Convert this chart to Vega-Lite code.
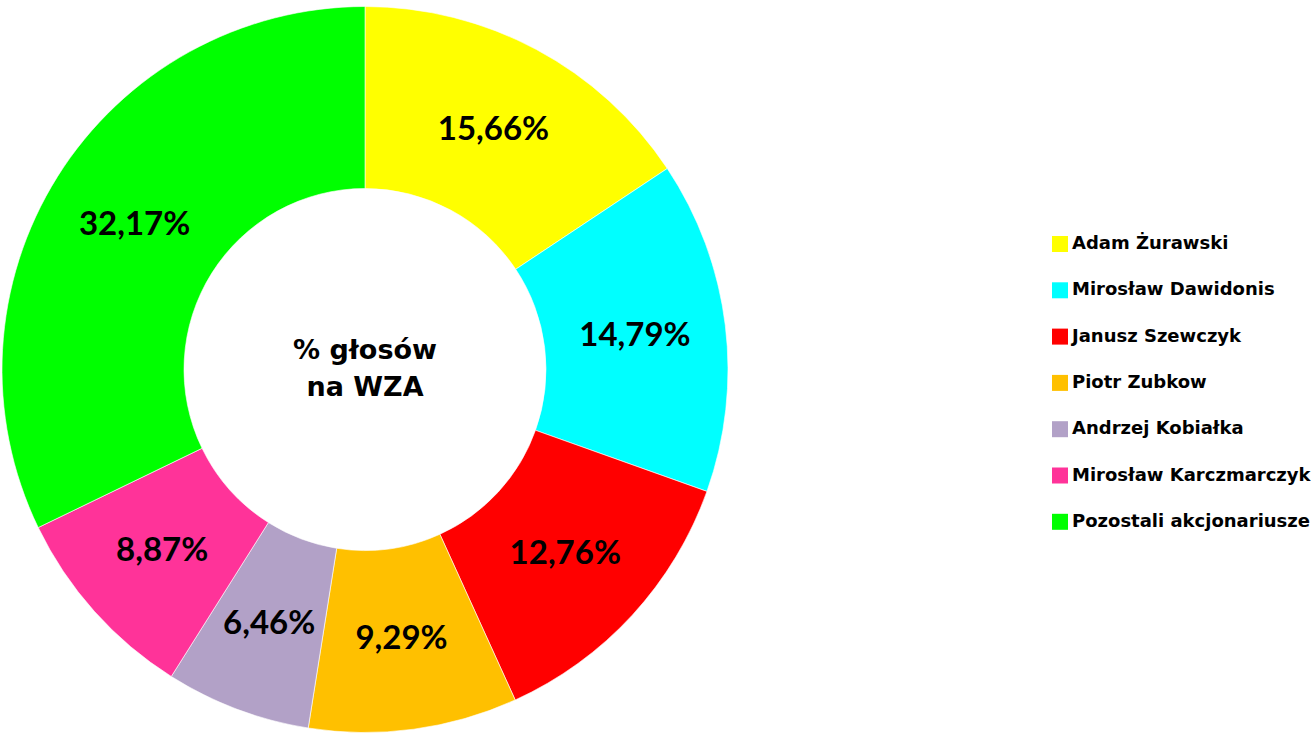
{
  "$schema": "https://vega.github.io/schema/vega-lite/v6.json",
  "width": 722,
  "height": 739,
  "padding": 0,
  "background": "white",
  "config": {"view": {"stroke": null}},
  "layer": [
    {
      "data": {"values": [
        {"name": "Adam Żurawski", "value": 15.66, "label": "15,66%", "order": 1},
        {"name": "Mirosław Dawidonis", "value": 14.79, "label": "14,79%", "order": 2},
        {"name": "Janusz Szewczyk", "value": 12.76, "label": "12,76%", "order": 3},
        {"name": "Piotr Zubkow", "value": 9.29, "label": "9,29%", "order": 4},
        {"name": "Andrzej Kobiałka", "value": 6.46, "label": "6,46%", "order": 5},
        {"name": "Mirosław Karczmarczyk", "value": 8.87, "label": "8,87%", "order": 6},
        {"name": "Pozostali akcjonariusze", "value": 32.17, "label": "32,17%", "order": 7}
      ]},
      "encoding": {
        "theta": {"field": "value", "type": "quantitative", "stack": true},
        "order": {"field": "order", "type": "quantitative"}
      },
      "layer": [
        {
          "mark": {"type": "arc", "radius": 363, "radius2": 181, "stroke": "white", "strokeWidth": 0.6},
          "encoding": {
            "color": {
              "field": "name", "type": "nominal",
              "scale": {
                "domain": ["Adam Żurawski", "Mirosław Dawidonis", "Janusz Szewczyk", "Piotr Zubkow", "Andrzej Kobiałka", "Mirosław Karczmarczyk", "Pozostali akcjonariusze"],
                "range": ["#FFFF00", "#00FFFF", "#FF0000", "#FFC000", "#B2A1C7", "#FF3399", "#00FF00"]
              },
              "legend": {
                "title": null,
                "orient": "none",
                "legendX": 1047,
                "legendY": 235,
                "symbolType": "square",
                "symbolSize": 256,
                "symbolStrokeWidth": 0,
                "labelFont": "DejaVu Sans",
                "labelFontWeight": "bold",
                "labelFontSize": 18,
                "labelColor": "black",
                "labelLimit": 400,
                "labelOffset": 3,
                "rowPadding": 28.3
              }
            }
          }
        },
        {
          "mark": {"type": "text", "radius": 272, "font": "Lato", "fontWeight": "bold", "fontSize": 33, "color": "black"},
          "encoding": {"text": {"field": "label"}}
        }
      ]
    },
    {
      "data": {"values": [{"center": "% głosów\nna WZA"}]},
      "mark": {"type": "text", "lineBreak": "\n", "font": "DejaVu Sans", "fontWeight": "bold", "fontSize": 27, "lineHeight": 37, "baseline": "middle", "align": "center", "dy": -19, "color": "black"},
      "encoding": {"text": {"field": "center"}}
    }
  ]
}
